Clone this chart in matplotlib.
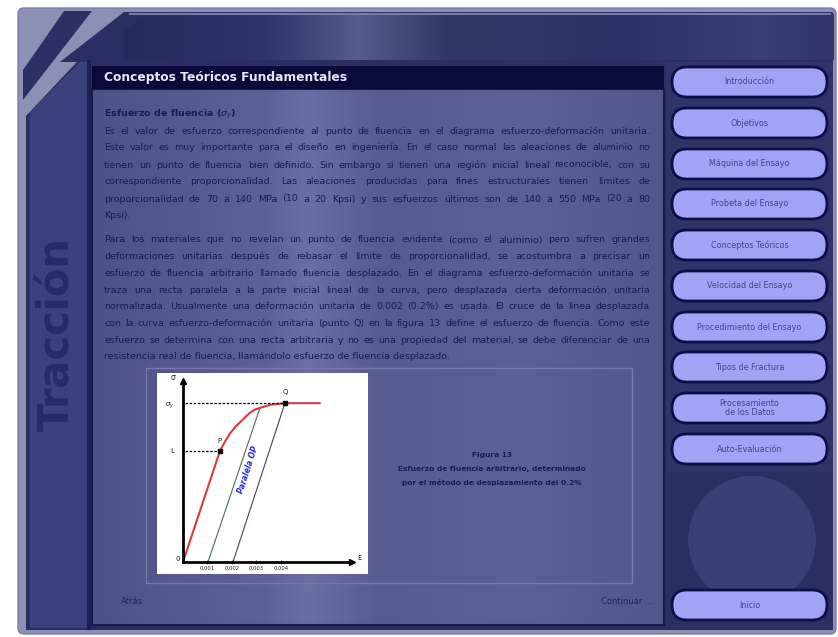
import matplotlib
matplotlib.use('Agg')
import matplotlib.pyplot as plt
import numpy as np
from matplotlib.patches import Rectangle, FancyBboxPatch, Polygon, Circle
from matplotlib.colors import to_rgb

W, H = 838, 637

# ---------------- data ----------------
menu_items = ["Introducción", "Objetivos", "Máquina del Ensayo", "Probeta del Ensayo",
              "Conceptos Teóricos", "Velocidad del Ensayo", "Procedimiento del Ensayo",
              "Tipos de Fractura", "Procesamiento\nde los Datos", "Auto-Evaluación"]
home_item = "Inicio"
section_title = "Tracción"
panel_title = "Conceptos Teóricos Fundamentales"
heading = "Esfuerzo de fluencia ($\\sigma_y$)"
para1 = [
    "Es el valor de esfuerzo correspondiente al punto de fluencia en el diagrama esfuerzo-deformación unitaria.",
    "Este valor es muy importante para el diseño en ingeniería. En el caso normal las aleaciones de aluminio no",
    "tienen un punto de fluencia bien definido. Sin embargo si tienen una región inicial lineal reconocible, con su",
    "correspondiente proporcionalidad. Las aleaciones producidas para fines estructurales tienen límites de",
    "proporcionalidad de 70 a 140 MPa (10 a 20 Kpsi) y sus esfuerzos últimos son de 140 a 550 MPa (20 a 80",
    "Kpsi).",
]
para2 = [
    "Para los materiales que no revelan un punto de fluencia evidente (como el aluminio) pero sufren grandes",
    "deformaciones unitarias después de rebasar el límite de proporcionalidad, se acostumbra a precisar un",
    "esfuerzo de fluencia arbitrario llamado fluencia desplazado. En el diagrama esfuerzo-deformación unitaria se",
    "traza una recta paralela a la parte inicial lineal de la curva, pero desplazada cierta deformación unitaria",
    "normalizada. Usualmente una deformación unitaria de 0.002 (0.2%) es usada. El cruce de la línea desplazada",
    "con la curva esfuerzo-deformación unitaria (punto Q) en la figura 13 define el esfuerzo de fluencia. Como este",
    "esfuerzo se determina con una recta arbitraria y no es una propiedad del material, se debe diferenciar de una",
    "resistencia real de fluencia, llamándolo esfuerzo de fluencia desplazado.",
]
caption = ["Figura 13", "Esfuerzo de fluencia arbitrario, determinado",
           "por el método de desplazamiento del 0.2%"]
nav_back = "Atrás"
nav_next = "Continuar ..."

# chart (strain in units of 0.001, stress relative to sigma_y)
curve_strain = [0, 1.51, 1.72, 1.92, 2.13, 2.33, 2.53, 2.73, 2.94, 3.14, 3.55, 4.16, 5.59]
curve_stress = [0, 0.70, 0.76, 0.81, 0.85, 0.88, 0.91, 0.94, 0.96, 0.97, 0.99, 1.00, 1.00]
offset1_strain = [1.02, 3.14]
offset1_stress = [0.0, 0.97]
offset2_strain = [2.04, 4.16]
offset2_stress = [0.0, 1.00]
point_P = (1.51, 0.70)
point_Q = (4.16, 1.00)
strain_ticks = [1, 2, 3, 4]
strain_tick_labels = ["0,001", "0,002", "0,003", "0,004"]
stress_ticks = [0.70, 1.00]
stress_tick_labels = ["L", "$\\sigma_y$"]

# ---------------- figure ----------------
fig = plt.figure(figsize=(W / 100, H / 100), dpi=100)
ax = fig.add_axes([0, 0, 1, 1])
ax.axis('off')


def hgrad(x0, y0, x1, y1, stops, z=1):
    n = 400
    xs = np.linspace(0, 1, n)
    pos = [s[0] for s in stops]
    cols = np.array([to_rgb(s[1]) for s in stops])
    arr = np.stack([np.interp(xs, pos, cols[:, k]) for k in range(3)], axis=-1)
    arr = arr[None, :, :]
    ax.imshow(arr, extent=(x0, x1, y1, y0), aspect='auto', zorder=z, interpolation='bilinear')


# outer frame
ax.add_patch(FancyBboxPatch((18, 8), 818, 626, boxstyle='round,pad=0,rounding_size=6',
                            fc='#8c90b4', ec='#7a7ea6', lw=1, zorder=0))
# main navy area
ax.add_patch(Polygon([(124, 12), (833, 12), (833, 630), (26, 630), (26, 116)],
                     closed=True, fc='#2a2e62', ec='none', zorder=0.5))
# diagonal dark stripe
ax.add_patch(Polygon([(64, 11), (92, 11), (23, 100), (23, 70)], closed=True,
                     fc='#2c3065', ec='none', zorder=0.5))
# top band with highlight
hgrad(124, 14, 833, 60, [(0, '#262a5c'), (0.2, '#30346a'), (0.33, '#555b8c'),
                          (0.45, '#343868'), (0.7, '#2d3165'), (0.9, '#3a3e72'), (1, '#30346a')], z=0.6)
ax.add_patch(Polygon([(124, 12), (150, 12), (80, 62), (60, 62)], closed=True,
                     fc='#2a2e62', ec='none', zorder=0.7))
ax.plot([130, 830], [14, 14], color='#777ba6', lw=1.5, zorder=0.8)
# left strip
ax.add_patch(Polygon([(30, 112), (80, 62), (88, 62), (88, 628), (30, 628)], closed=True,
                     fc='#3c417e', ec='none', zorder=0.9))
ax.plot([89, 89], [62, 628], color='#1d2052', lw=3, zorder=0.95)
ax.text(57, 334, section_title, rotation=90, fontsize=30, fontweight='bold', color='#262a66',
        ha='center', va='center', zorder=2)

# content panel
hgrad(92, 89, 664, 625, [(0, '#4d5187'), (0.3, '#5d6195'), (0.38, '#6a6ea2'), (0.5, '#575b90'),
                          (0.75, '#5c6095'), (1, '#52568b')], z=1)
ax.add_patch(Rectangle((92, 89), 572, 536, fc='none', ec='#17194b', lw=1.5, zorder=1.5))
ax.add_patch(Rectangle((92, 66), 572, 23, fc='#090a3a', ec='none', zorder=1.6))
ax.text(104, 78, panel_title, fontsize=8.8, fontweight='bold', color='#e8e8f4',
        ha='left', va='center', zorder=3)

# right panel
ax.add_patch(Rectangle((666, 62), 167, 568, fc='#2f3367', ec='none', zorder=1))
ax.add_patch(Rectangle((666, 472), 167, 158, fc='#2a2e61', ec='none', zorder=1.1))
ax.add_patch(Circle((752, 540), 64, fc='#394075', ec='none', zorder=1.2))

btn_y = [82, 123, 164, 204, 245, 286, 327, 367, 408, 449]
for label, cy in zip(menu_items, btn_y):
    ax.add_patch(FancyBboxPatch((672, cy - 15), 155, 30, boxstyle='round,pad=0,rounding_size=15',
                                fc='#a1a3f6', ec='#0d0e45', lw=2, zorder=3))
    ax.text(749.5, cy, label, fontsize=5.8, color='#44468a', ha='center', va='center',
            linespacing=1.1, zorder=4)
ax.add_patch(FancyBboxPatch((672, 590), 155, 30, boxstyle='round,pad=0,rounding_size=15',
                            fc='#a1a3f6', ec='#0d0e45', lw=2, zorder=3))
ax.text(749.5, 605, home_item, fontsize=5.8, color='#44468a', ha='center', va='center', zorder=4)

ax.set_xlim(0, W)
ax.set_ylim(H, 0)

# text content
TXT = '#1a1c52'
renderer = fig.canvas.get_renderer()


def justified(lines, x0, x1, y0, dy, **kw):
    for i, line in enumerate(lines):
        y = y0 + i * dy
        if i == len(lines) - 1:
            ax.text(x0, y, line, ha='left', va='center', **kw)
            continue
        words = line.split(' ')
        texts = [ax.text(0, y, w, ha='left', va='center', **kw) for w in words]
        widths = [t.get_window_extent(renderer).width for t in texts]
        gap = (x1 - x0 - sum(widths)) / (len(words) - 1)
        x = x0
        for t, w in zip(texts, widths):
            t.set_x(x)
            x += w + gap


ax.text(104, 114, heading, fontsize=6.8, fontweight='bold', color=TXT, ha='left',
        va='center', zorder=3)
justified(para1, 104, 650, 131, 17, fontsize=6.8, color=TXT, zorder=3)
justified(para2, 104, 650, 240, 16.7, fontsize=6.8, color=TXT, zorder=3)

# figure frame and caption
ax.add_patch(Rectangle((146, 368), 486, 215, fc='none', ec='#7478aa', lw=1, zorder=2))
for i, c in enumerate(caption):
    ax.text(492, 455 + i * 14, c, fontsize=5.3, fontweight='bold', color=TXT,
            ha='center', va='center', zorder=3)

ax.text(121, 601, nav_back, fontsize=6, color='#23265e', ha='left', va='center', zorder=3)
ax.text(653, 601, nav_next, fontsize=6, color='#23265e', ha='right', va='center', zorder=3)

# ---------------- inset chart ----------------
ax2 = fig.add_axes([157 / W, 1 - 574 / H, 211 / W, 201 / H])
ax2.set_facecolor('white')
ax2.set_xlim(-1.06, 7.55)
ax2.set_ylim(-0.075, 1.19)
for s in ['top', 'right']:
    ax2.spines[s].set_visible(False)
ax2.spines['left'].set_position(('data', 0))
ax2.spines['bottom'].set_position(('data', 0))
ax2.spines['left'].set_bounds(0, 1.13)
ax2.spines['bottom'].set_bounds(0, 6.85)
ax2.spines['left'].set_linewidth(2)
ax2.spines['bottom'].set_linewidth(2)
ax2.plot([6.9], [0], marker='>', ms=4, color='k', clip_on=False)
ax2.plot([0], [1.14], marker='^', ms=4, color='k', clip_on=False)

ax2.plot(curve_strain, curve_stress, color='#d93a3a', lw=1.5, solid_capstyle='round',
         solid_joinstyle='round')
ax2.plot(offset1_strain, offset1_stress, color='#4d6e58', lw=0.8)
ax2.plot(offset2_strain, offset2_stress, color='#3d4566', lw=0.8)
ax2.plot([0.1, point_P[0]], [point_P[1], point_P[1]], color='k', lw=0.9, ls=(0, (2, 1.3)))
ax2.plot([0.1, point_Q[0]], [point_Q[1], point_Q[1]], color='k', lw=0.9, ls=(0, (2, 1.3)))
ax2.plot([point_P[0], point_Q[0]], [point_P[1], point_Q[1]], ls='none', marker='s',
         ms=2.5, color='k')

ax2.set_xticks(strain_ticks, strain_tick_labels, fontsize=3.8)
ax2.tick_params(axis='x', length=2.5, width=0.6, pad=1.5, direction='inout', colors='#222')
ax2.set_yticks(stress_ticks, stress_tick_labels, fontsize=5.2)
ax2.tick_params(axis='y', length=0, pad=6, colors='#222')

ax2.text(-0.42, 1.16, "σ", fontsize=5.5, ha='center', va='center', color='#222')
ax2.text(-0.22, 0.02, "0", fontsize=5, ha='center', va='center', color='#222')
ax2.text(7.2, 0.03, "ε", fontsize=5.5, ha='center', va='center', color='#222')
ax2.text(1.5, 0.76, "P", fontsize=5, ha='center', va='center', color='#222')
ax2.text(4.16, 1.07, "Q", fontsize=5, ha='center', va='center', color='#222')
ax2.text(2.65, 0.58, "Paralela OP", rotation=72, fontsize=5.5, fontweight='bold',
         fontstyle='italic', color='#2a2ad0', ha='center', va='center')

fig.savefig('out.png', dpi=100)
